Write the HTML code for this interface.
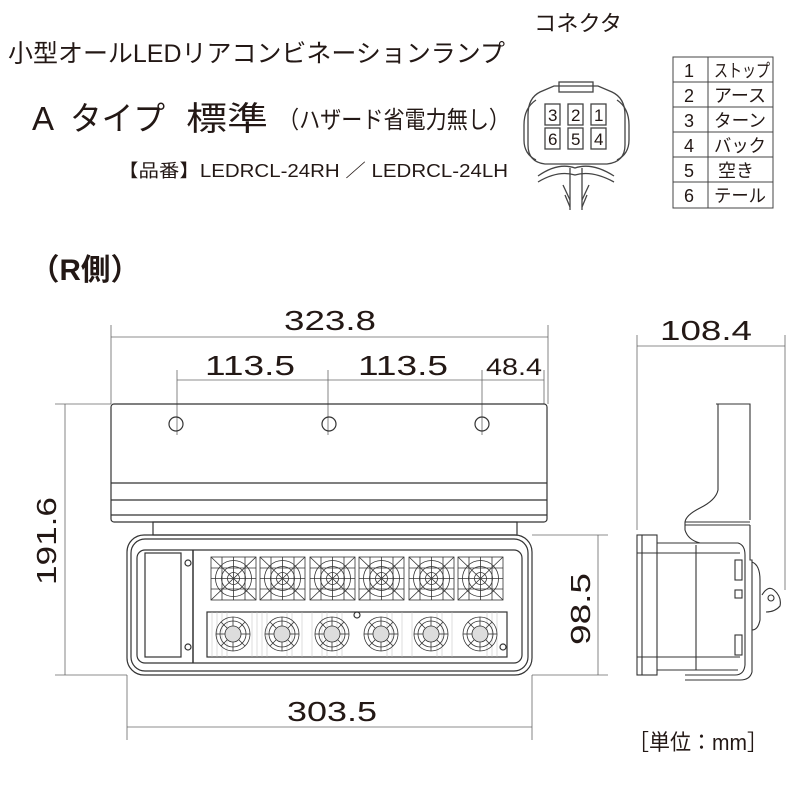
<!DOCTYPE html>
<html><head><meta charset="utf-8"><style>
html,body{margin:0;padding:0;background:#fff}
svg{display:block}
text{font-family:"Liberation Sans","Noto Sans CJK JP",sans-serif;fill:#231815}
</style></head><body>
<svg width="801" height="802" viewBox="0 0 801 802" xmlns="http://www.w3.org/2000/svg">
<defs>
<g id="fan" fill="none" stroke="#333" stroke-width="0.8">
<rect x="0" y="0" width="45" height="43"/>
<circle cx="22.5" cy="21.5" r="18"/><circle cx="22.5" cy="21.5" r="12"/><circle cx="22.5" cy="21.5" r="6"/>
<line x1="0" y1="0" x2="45" y2="43"/><line x1="45" y1="0" x2="0" y2="43"/>
<line x1="22.5" y1="0" x2="22.5" y2="43"/><line x1="0" y1="21.5" x2="45" y2="21.5"/>
<line x1="11" y1="0" x2="11" y2="43"/><line x1="34" y1="0" x2="34" y2="43"/>
<line x1="0" y1="11" x2="45" y2="11"/><line x1="0" y1="32" x2="45" y2="32"/>
</g>
<g id="led" fill="none" stroke="#333" stroke-width="0.8">
<circle r="17"/><circle r="13"/><circle r="8" fill="#ddd"/>
<line x1="-17" y1="0" x2="-8" y2="0"/><line x1="8" y1="0" x2="17" y2="0"/>
<line x1="0" y1="-17" x2="0" y2="-8"/><line x1="0" y1="8" x2="0" y2="17"/>
<line x1="-12" y1="-12" x2="-6" y2="-6"/><line x1="12" y1="12" x2="6" y2="6"/>
<line x1="12" y1="-12" x2="6" y2="-6"/><line x1="-12" y1="12" x2="-6" y2="6"/>
</g>
</defs>

<text x="8" y="62" font-size="25" textLength="497" lengthAdjust="spacingAndGlyphs">小型オールLEDリアコンビネーションランプ</text>
<text x="32" y="130" font-size="33">A</text>
<text x="70" y="130" font-size="33" textLength="95" lengthAdjust="spacingAndGlyphs">タイプ</text>
<text x="186" y="130" font-size="33" textLength="82" lengthAdjust="spacingAndGlyphs">標準</text>
<text x="278" y="128" font-size="24" textLength="232" lengthAdjust="spacingAndGlyphs">（ハザード省電力無し）</text>
<text x="118" y="177" font-size="18" textLength="390" lengthAdjust="spacingAndGlyphs">【品番】LEDRCL-24RH ／ LEDRCL-24LH</text>
<text x="534" y="31" font-size="22" textLength="88" lengthAdjust="spacingAndGlyphs">コネクタ</text>

<g stroke="#444" stroke-width="1" fill="none">
<rect x="673" y="57" width="100" height="151"/>
<line x1="708" y1="57" x2="708" y2="208"/>
<line x1="673" y1="82" x2="773" y2="82"/><line x1="673" y1="107" x2="773" y2="107"/>
<line x1="673" y1="132" x2="773" y2="132"/><line x1="673" y1="157" x2="773" y2="157"/>
<line x1="673" y1="182" x2="773" y2="182"/>
</g>
<g font-size="18">
<text x="684" y="77">1</text><text x="714" y="77" textLength="56" lengthAdjust="spacingAndGlyphs">ストップ</text>
<text x="684" y="102">2</text><text x="714" y="102" textLength="52" lengthAdjust="spacingAndGlyphs">アース</text>
<text x="684" y="127">3</text><text x="714" y="127" textLength="52" lengthAdjust="spacingAndGlyphs">ターン</text>
<text x="684" y="152">4</text><text x="714" y="152" textLength="52" lengthAdjust="spacingAndGlyphs">バック</text>
<text x="684" y="177">5</text><text x="718" y="177" textLength="36" lengthAdjust="spacingAndGlyphs">空き</text>
<text x="684" y="202">6</text><text x="714" y="202" textLength="52" lengthAdjust="spacingAndGlyphs">テール</text>
</g>

<g fill="none" stroke="#444" stroke-width="1.3">
<path d="M540 92 Q528 98 528 115 L528 145 Q528 162 545 164 L607 164 Q625 162 625 145 L625 115 Q625 98 612 92 L598 86 L554 86 Z"/>
<path d="M536 100 Q524 108 524 125 L524 140 Q524 154 536 160"/>
<path d="M617 100 Q629 108 629 125 L629 140 Q629 154 617 160"/>
<rect x="559" y="82" width="34" height="10"/>
<rect x="545" y="104" width="15" height="21"/><rect x="568" y="104" width="15" height="21"/><rect x="591" y="104" width="15" height="21"/>
<rect x="545" y="128" width="15" height="21"/><rect x="568" y="128" width="15" height="21"/><rect x="591" y="128" width="15" height="21"/>
<path d="M538 176 Q558 162 575 168 Q592 162 614 176"/>
<path d="M538 182 Q558 170 575 175 Q592 170 614 182"/>
<path d="M570 168 L570 210 M582 168 L582 210"/>
<path d="M563 185 L570 200 M589 185 L582 200 M565 195 L570 207 M587 195 L582 207"/>
</g>
<g font-size="17"><text x="548" y="121">3</text><text x="571" y="121">2</text><text x="594" y="121">1</text>
<text x="548" y="145">6</text><text x="571" y="145">5</text><text x="594" y="145">4</text></g>

<text x="30" y="280" font-size="30" font-weight="bold" textLength="110" lengthAdjust="spacingAndGlyphs">（R側）</text>

<g stroke="#666" stroke-width="0.8" fill="none">
<line x1="111" y1="337" x2="548" y2="337"/>
<line x1="111" y1="325" x2="111" y2="404"/><line x1="548" y1="325" x2="548" y2="404"/>
<line x1="177" y1="380" x2="544" y2="380"/>
<line x1="177" y1="370" x2="177" y2="435"/><line x1="328" y1="370" x2="328" y2="435"/><line x1="482" y1="370" x2="482" y2="435"/><line x1="544" y1="370" x2="544" y2="404"/>
<line x1="65" y1="404" x2="65" y2="675"/>
<line x1="55" y1="404" x2="111" y2="404"/><line x1="55" y1="675" x2="127" y2="675"/>
<line x1="598" y1="535" x2="598" y2="675"/>
<line x1="532" y1="535" x2="608" y2="535"/><line x1="532" y1="675" x2="608" y2="675"/>
<line x1="127" y1="727" x2="532" y2="727"/>
<line x1="127" y1="675" x2="127" y2="740"/><line x1="532" y1="675" x2="532" y2="740"/>
<line x1="637" y1="346" x2="785" y2="346"/>
<line x1="637" y1="335" x2="637" y2="530"/><line x1="785" y1="335" x2="785" y2="590"/>
</g>
<g font-size="28">
<text x="284" y="330" textLength="92" lengthAdjust="spacingAndGlyphs">323.8</text>
<text x="205" y="375" textLength="90" lengthAdjust="spacingAndGlyphs">113.5</text>
<text x="358" y="375" textLength="90" lengthAdjust="spacingAndGlyphs">113.5</text>
<text x="486" y="375" font-size="24" textLength="56" lengthAdjust="spacingAndGlyphs">48.4</text>
<text x="287" y="721" textLength="90" lengthAdjust="spacingAndGlyphs">303.5</text>
<text x="660" y="340" textLength="92" lengthAdjust="spacingAndGlyphs">108.4</text>
<text transform="translate(56 585) rotate(-90)" textLength="88" lengthAdjust="spacingAndGlyphs">191.6</text>
<text transform="translate(590 645) rotate(-90)" textLength="72" lengthAdjust="spacingAndGlyphs">98.5</text>
</g>
<text x="628" y="750" font-size="22" textLength="140" lengthAdjust="spacingAndGlyphs">［単位：mm］</text>

<g fill="none" stroke="#333" stroke-width="1.2">
<rect x="111" y="404" width="436" height="118" rx="3"/>
<line x1="111" y1="483" x2="547" y2="483"/><line x1="111" y1="500" x2="547" y2="500"/><line x1="111" y1="515" x2="547" y2="515"/>
<circle cx="176" cy="424" r="7"/><circle cx="329" cy="424" r="7"/><circle cx="482" cy="424" r="7"/>
<rect x="153" y="522" width="364" height="13"/>
<rect x="127" y="535" width="405" height="140" rx="17"/>
<rect x="131" y="539" width="397" height="132" rx="14"/>
<rect x="137" y="550" width="385" height="113" rx="8"/>
<rect x="145" y="553" width="36" height="104"/>
<line x1="193" y1="550" x2="193" y2="663" stroke-width="1.5"/>
<circle cx="188" cy="563" r="3"/><circle cx="188" cy="647" r="3"/>
<rect x="207" y="612" width="300" height="45"/>
<circle cx="357" cy="615" r="3"/><circle cx="503" cy="647" r="3"/>
</g>
<g stroke="#bbb" stroke-width="0.5">
<path d="M212 612V657M217 612V657M222 612V657M227 612V657M252 612V657M257 612V657M262 612V657M267 612V657M287 612V657M292 612V657M302 612V657M312 612V657M322 612V657M327 612V657M337 612V657M342 612V657M387 612V657M392 612V657M402 612V657M412 612V657M437 612V657M442 612V657M452 612V657M487 612V657M492 612V657M497 612V657"/>
</g>
<use href="#fan" x="211" y="557"/><use href="#fan" x="260" y="557"/><use href="#fan" x="310" y="557"/>
<use href="#fan" x="359" y="557"/><use href="#fan" x="409" y="557"/><use href="#fan" x="458" y="557"/>
<use href="#led" x="233" y="634"/><use href="#led" x="282" y="634"/><use href="#led" x="332" y="634"/>
<use href="#led" x="381" y="634"/><use href="#led" x="431" y="634"/><use href="#led" x="480" y="634"/>

<g fill="none" stroke="#333" stroke-width="1.1">
<path d="M716 404 L750 404 L750 520"/>
<path d="M718 404 L718 490 Q716 500 700 508 Q686 515 685 522 L685 530 Q688 540 700 543"/>
<line x1="685" y1="522" x2="750" y2="522"/><line x1="685" y1="525" x2="750" y2="525"/>
<rect x="637" y="535" width="20" height="140"/>
<line x1="642" y1="535" x2="642" y2="675"/>
<line x1="637" y1="553" x2="657" y2="553"/><line x1="637" y1="657" x2="657" y2="657"/>
<path d="M657 543 L738 543 Q745 545 745 555 L745 665 Q744 675 735 675 L685 675"/>
<path d="M657 670 L738 670"/>
<line x1="696" y1="545" x2="696" y2="670"/>
<line x1="657" y1="553" x2="740" y2="553"/><line x1="657" y1="657" x2="740" y2="657"/>
<path d="M750 525 L750 560 L752 560 L752 672 Q750 680 740 680 L685 680"/>
<rect x="735" y="560" width="7" height="20"/><rect x="735" y="590" width="7" height="8"/><rect x="735" y="635" width="7" height="20"/>
<path d="M752 562 Q760 565 760 580 L760 620 Q758 630 752 630"/>
<path d="M762 595 Q768 585 774 590 Q782 597 780 606 Q775 612 766 612"/>
<circle cx="771" cy="598" r="3"/>
</g>
</svg>
</body></html>
